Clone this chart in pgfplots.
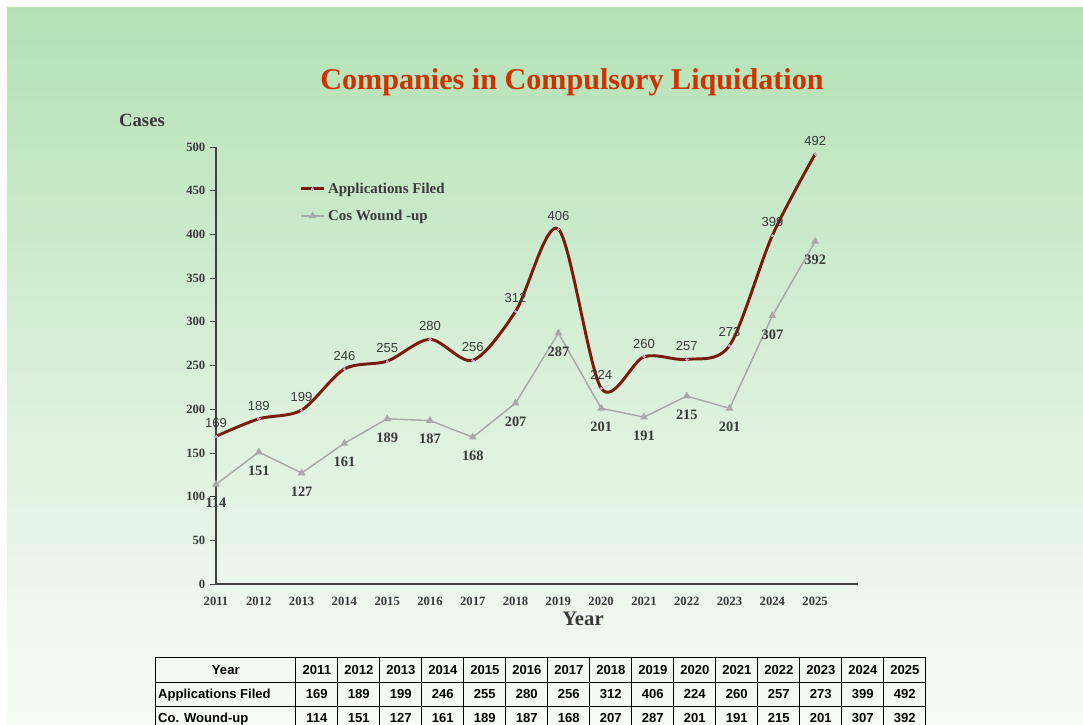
\documentclass[border=0pt]{standalone}
\usepackage{pgfplots}
\pgfplotsset{compat=1.18}
\usepackage{array}
\usepackage{fontspec}
\setmainfont{Liberation Serif}
\newfontfamily\arial{Liberation Sans}
\definecolor{bgtop}{HTML}{B3E1B4}
\definecolor{bgbot}{HTML}{F7FBF6}
\definecolor{titlered}{HTML}{CC3300}
\definecolor{maroon}{HTML}{7A1A0C}
\definecolor{greyline}{HTML}{A8A8A8}
\definecolor{txt}{HTML}{3A3A3A}
\begin{document}
\begin{tikzpicture}
\useasboundingbox (0pt,0pt) rectangle (812.25pt,-543.75pt);
\fill[white] (0pt,0pt) rectangle (812.25pt,-543.75pt);
\shade[top color=bgtop, bottom color=bgbot, middle color=bgtop!45!bgbot] (5.25pt,-5.25pt) rectangle (812.25pt,-543.75pt);
\node[font=\bfseries\fontsize{22.6}{26}\selectfont, text=titlered] at (429pt,-61.5pt) {Companies in Compulsory Liquidation};
\node[font=\bfseries\fontsize{14}{16}\selectfont, text=txt] at (106.5pt,-90pt) {Cases};
\node[font=\bfseries\fontsize{15.5}{18}\selectfont, text=txt] at (437.25pt,-463.8pt) {Year};
\begin{axis}[
  at={(162pt,-438pt)}, anchor=origin,
  scale only axis, width=481.5pt, height=327.75pt,
  xmin=2011, xmax=2026, ymin=0, ymax=500,
  axis x line*=bottom, axis y line*=left,
  axis line style={draw=black!75, line width=0.8pt},
  xtick={2011,...,2025}, ytick={0,50,...,500},
  x tick style={draw=none},
  y tick style={draw=black!75, line width=0.6pt},
  tick align=outside, major tick length=4.5pt,
  /pgf/number format/assume math mode=true,
  /pgf/number format/1000 sep={},
  tick label style={font=\rmfamily\bfseries\fontsize{9.5}{10}\selectfont, text=txt},
  xticklabel style={yshift=-1.5pt},
  clip=false,
  legend style={at={(0.13,0.925)}, anchor=north west, draw=none, fill=none,
    font=\rmfamily\bfseries\fontsize{11.2}{13}\selectfont, text=txt, row sep=7pt, inner sep=0pt},
  legend cell align=left,
]
\addplot[maroon, line width=2.2pt, smooth, tension=0.5, mark=*, mark size=0.9pt,
  mark options={fill=violet!40, draw=violet!40, line width=0pt},
  nodes near coords, every node near coord/.append style={font=\arial\fontsize{9.8}{11}\selectfont, text=txt, anchor=south, yshift=3pt}]
coordinates {(2011,169) (2012,189) (2013,199) (2014,246) (2015,255) (2016,280) (2017,256) (2018,312) (2019,406) (2020,224) (2021,260) (2022,257) (2023,273) (2024,399) (2025,492)};
\addlegendentry{\rmfamily\bfseries Applications Filed}
\addplot[greyline, line width=1.1pt, mark=triangle*, mark size=2.3pt, mark options={fill=greyline, draw=greyline},
  nodes near coords, every node near coord/.append style={font=\rmfamily\bfseries\fontsize{10.8}{12}\selectfont, text=txt, anchor=north, yshift=-6.5pt}]
coordinates {(2011,114) (2012,151) (2013,127) (2014,161) (2015,189) (2016,187) (2017,168) (2018,207) (2019,287) (2020,201) (2021,191) (2022,215) (2023,201) (2024,307) (2025,392)};
\addlegendentry{\rmfamily\bfseries Cos Wound -up}
\end{axis}
\node[anchor=north west, inner sep=0pt, font=\arial\bfseries\fontsize{9.8}{11}\selectfont] at (116.25pt,-492.75pt) {%
\setlength{\tabcolsep}{0pt}\setlength{\arrayrulewidth}{0.7pt}%
\begin{tabular}{|>{\hspace{1.5pt}}p{104.4pt}|*{15}{>{\centering\arraybackslash}p{30.8pt}|}}
\hline
\multicolumn{1}{|c|}{\rule[-5.5pt]{0pt}{17.5pt}Year} & 2011 & 2012 & 2013 & 2014 & 2015 & 2016 & 2017 & 2018 & 2019 & 2020 & 2021 & 2022 & 2023 & 2024 & 2025\\ \hline
\rule[-5.5pt]{0pt}{17.5pt}Applications Filed & 169 & 189 & 199 & 246 & 255 & 280 & 256 & 312 & 406 & 224 & 260 & 257 & 273 & 399 & 492\\ \hline
\rule[-5.5pt]{0pt}{17.5pt}Co. Wound-up & 114 & 151 & 127 & 161 & 189 & 187 & 168 & 207 & 287 & 201 & 191 & 215 & 201 & 307 & 392\\ \hline
\end{tabular}};
\end{tikzpicture}
\end{document}
